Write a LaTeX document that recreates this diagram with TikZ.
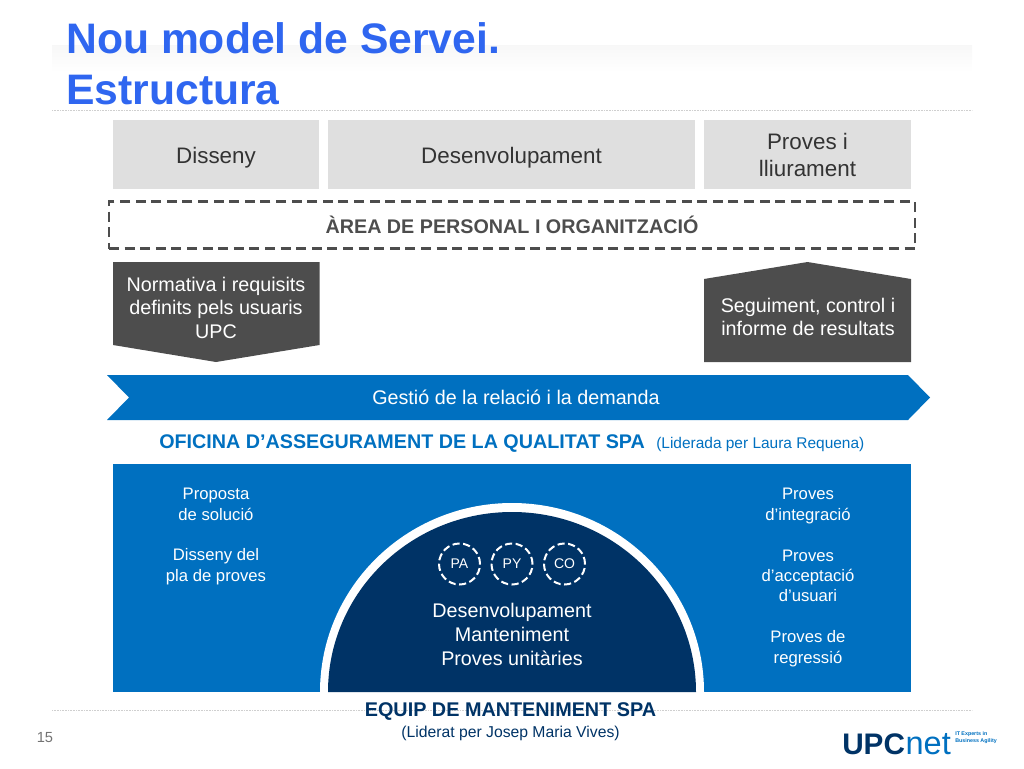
\documentclass[tikz,border=0pt]{standalone}
\usepackage{fontspec}
\setmainfont{Liberation Sans}
\usetikzlibrary{positioning}
\definecolor{titleblue}{HTML}{2F66F0}
\definecolor{upcblue}{HTML}{0070C0}
\definecolor{upcnavy}{HTML}{003366}
\definecolor{boxgray}{HTML}{DFDFDF}
\definecolor{arrowgray}{HTML}{4D4D4D}
\definecolor{textgray}{HTML}{333333}
\definecolor{rulegray}{HTML}{CFCFCF}
\tikzset{
   phase/.style={fill=boxgray,text=textgray,minimum height=69*0.75pt,inner sep=0pt,
      align=center,font=\fontsize{16.8}{20}\selectfont},
   whitetext/.style={text=white,align=center,font=\fontsize{14.8}{17.6}\selectfont},
   smalltext/.style={text=white,align=center,font=\fontsize{12.5}{15.3}\selectfont},
   team/.style={circle,draw=white,line width=1.5pt,minimum size=41*0.75pt,inner sep=0pt,
      text=white,font=\fontsize{10.5}{12}\selectfont,dash pattern=on 5.4pt off 2.6pt},
   dotrule/.style={rulegray,line width=0.6pt,dash pattern=on 0.8pt off 0.4pt},
}
\begin{document}
\begin{tikzpicture}[x=0.75pt,y=-0.75pt]
      \useasboundingbox (0,0) rectangle (1024,768);

      % top band and rules
      \shade[top color=black!3,bottom color=white] (52,45) rectangle (972,72);
      \coordinate (r0) at (52,110);
      \coordinate (r1) at (972,110);
      \coordinate (r2) at (52,710);
      \coordinate (r3) at (972,710);
      \draw[dotrule] (r0) -- (r1);
      \draw[dotrule] (r2) -- (r3);

      \node[anchor=north west,inner sep=0pt,text=titleblue,align=left,
         font=\fontsize{32}{38.4}\bfseries\selectfont] (title) at (66,22.5)
         {Nou model de Servei.\\Estructura};

      % phases
      \node[phase,minimum width=206*0.75pt] (disseny) at (216,154) {\raisebox{-6.75pt}[0pt][0pt]{Disseny}};
      \node[phase,minimum width=367*0.75pt] (desenv) at (511.5,154) {\raisebox{-6.75pt}[0pt][0pt]{Desenvolupament}};
      \node[phase,minimum width=207*0.75pt] (proves) at (807.5,154) {\rule{0pt}{13.5pt}Proves i\\lliurament};

      \node[draw=arrowgray,line width=1.7pt,dash pattern=on 7.5pt off 4.2pt,
         minimum width=806*0.75pt,minimum height=47*0.75pt,inner sep=0pt,text=arrowgray,
         font=\fontsize{14.8}{16}\bfseries\selectfont] (area) at (512,225)
         {ÀREA DE PERSONAL I ORGANITZACIÓ};

      % grey arrows
      \fill[arrowgray] (113,262) -- (319.5,262) -- (319.5,345) -- (216,362) -- (113,345) -- cycle;
      \fill[arrowgray] (704,279) -- (807.5,262) -- (911,279) -- (911,362) -- (704,362) -- cycle;
      \node[whitetext] (normativa) at (216,307.7) {Normativa i requisits\\definits pels usuaris\\UPC};
      \node[whitetext] (seguiment) at (808,316.7) {Seguiment, control i\\informe de resultats};

      % blue arrow
      \fill[upcblue] (107,375) -- (908,375) -- (930,397.5) -- (908,420) -- (107,420) -- (129,397.5) -- cycle;
      \node[text=white,font=\fontsize{14.8}{18}\selectfont] (gestio) at (516,397.5)
         {Gestió de la relació i la demanda};

      \node[text=upcblue,inner sep=0pt,anchor=base west,font=\fontsize{14.8}{16}\bfseries\selectfont]
         (oficina) at (159,448) {OFICINA D’ASSEGURAMENT DE LA QUALITAT SPA};
      \node[text=upcblue,inner sep=0pt,anchor=base west,font=\fontsize{11.6}{14}\selectfont]
         (liderada) at (656,448) {(Liderada per Laura Requena)};

      % main panel
      \fill[upcblue] (113,464) rectangle (911,692);
      \fill[white] (320,692) arc[start angle=180,end angle=360,x radius=192,y radius=189] -- cycle;
      \fill[upcnavy] (328,692) arc[start angle=180,end angle=360,x radius=184,y radius=180] -- cycle;

      \node[smalltext] (solucio) at (216,536.5)
         {Proposta\\de solució\\[\baselineskip]Disseny del\\pla de proves};
      \node[smalltext] (integracio) at (808,577.5)
         {Proves\\d’integració\\[\baselineskip]Proves\\d’acceptació\\d’usuari\\[\baselineskip]Proves de\\regressió};

      \node[team] (py) at (512,564) {PY};
      \node[team,left=9.5*0.75pt of py] (pa) {PA};
      \node[team,right=9.5*0.75pt of py] (co) {CO};

      \node[text=white,align=center,font=\fontsize{14.8}{17.8}\selectfont] (tasques) at (512,634.5)
         {Desenvolupament\\Manteniment\\Proves unitàries};

      % bottom texts
      \node[text=upcnavy,font=\fontsize{14.86}{16}\bfseries\selectfont] (equip) at (510.5,712)
         {EQUIP DE MANTENIMENT SPA};
      \node[text=upcnavy,font=\fontsize{11.8}{14}\selectfont,below=0pt of equip,yshift=3pt] (liderat)
         {(Liderat per Josep Maria Vives)};
      \node[text=black!55,font=\fontsize{11}{13}\selectfont] (pagina) at (45,738) {15};

      % logo
      \node[anchor=base west,inner sep=0pt,text=upcnavy,font=\fontsize{22.3}{24}\bfseries\selectfont]
         (upc) at (842,754) {UPC};
      \node[anchor=base west,inner sep=0pt,text=upcblue,font=\fontsize{24.4}{26}\selectfont]
         (net) at (upc.base east) {net};
      \node[anchor=north west,inner sep=0pt,text=upcblue,align=left,font=\fontsize{4}{5.2}\bfseries\selectfont]
         (lema) at (955,731.5) {IT Experts in\\Business Agility};
\end{tikzpicture}
\end{document}
